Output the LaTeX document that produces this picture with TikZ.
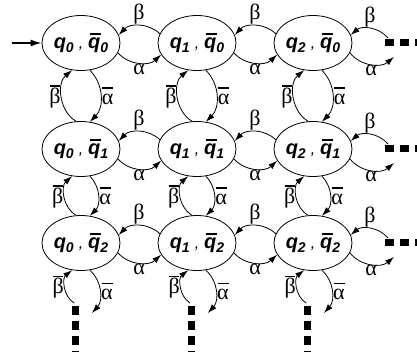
\documentclass[tikz,border=0pt]{standalone}
\usepackage{fontspec}
\setmainfont{Liberation Sans}
\newfontfamily\greek{Liberation Serif}
\usetikzlibrary{shapes.geometric,arrows.meta}
% state labels: q_i , qbar_j
\newcommand{\sub}[1]{\raisebox{-4pt}{\fontsize{14}{14}\selectfont #1}}
\newcommand{\qbar}{\makebox[0pt][l]{\hspace{1.5pt}\rule[13.5pt]{11pt}{2.2pt}}q}
\newcommand{\st}[2]{q\sub{#1}\hspace{5pt}{\fontsize{16}{16}\selectfont\mdseries ,}\hspace{5pt}\qbar\sub{#2}}
% negated letters
\newcommand{\nbeta}{\makebox[0pt][l]{\hspace{0.5pt}\rule[17pt]{10pt}{1.3pt}}β}
\newcommand{\nalpha}{\makebox[0pt][l]{\hspace{0.5pt}\rule[15.5pt]{11pt}{1.3pt}}α}

\begin{document}
\begin{tikzpicture}[x=1pt,y=-1pt,>={Latex[length=9pt,width=6pt]},
  state/.style={ellipse,draw,line width=0.8pt,minimum width=78pt,minimum height=55pt,inner sep=0pt,
    font=\fontsize{20}{24}\selectfont\bfseries\itshape},
  tr/.style={->,line width=0.8pt},
  lbl/.style={font=\greek\fontsize{22}{24}\selectfont,inner sep=1pt},
  dots/.style={line width=7pt,dash pattern=on 9pt off 6pt}]
\clip (0,0) rectangle (417,351);

\node[state](q00) at (81,43) {\st{0}{0}};
\node[state](q10) at (197,43) {\st{1}{0}};
\node[state](q20) at (313,43) {\st{2}{0}};
\node[state](q01) at (81,149) {\st{0}{1}};
\node[state](q11) at (197,149) {\st{1}{1}};
\node[state](q21) at (313,149) {\st{2}{1}};
\node[state](q02) at (81,243) {\st{0}{2}};
\node[state](q12) at (197,243) {\st{1}{2}};
\node[state](q22) at (313,243) {\st{2}{2}};

% initial state
\coordinate (init) at (12,43);
\draw[line width=1.5pt,-{Latex[length=11pt,width=7pt]}] (init) -- (q00);

% alpha / beta between columns
\draw[tr] (q10.166) to[bend right=45] node[lbl,above]{β} (q00.12);
\draw[tr] (q00.-15) to[bend right=45] node[lbl,below]{α} (q10.198);
\draw[tr] (q20.166) to[bend right=45] node[lbl,above]{β} (q10.12);
\draw[tr] (q10.-15) to[bend right=45] node[lbl,below]{α} (q20.198);
\draw[tr] (q11.166) to[bend right=45] node[lbl,above]{β} (q01.12);
\draw[tr] (q01.-15) to[bend right=45] node[lbl,below]{α} (q11.198);
\draw[tr] (q21.166) to[bend right=45] node[lbl,above]{β} (q11.12);
\draw[tr] (q11.-15) to[bend right=45] node[lbl,below]{α} (q21.198);
\draw[tr] (q12.166) to[bend right=45] node[lbl,above]{β} (q02.12);
\draw[tr] (q02.-15) to[bend right=45] node[lbl,below]{α} (q12.198);
\draw[tr] (q22.166) to[bend right=45] node[lbl,above]{β} (q12.12);
\draw[tr] (q12.-15) to[bend right=45] node[lbl,below]{α} (q22.198);

% negated letters between rows
\draw[tr] (q01.100) to[bend left=55] node[lbl,left]{\nbeta} (q00.252);
\draw[tr] (q00.288) to[bend left=45] node[lbl,right]{\nalpha} (q01.72);
\draw[tr] (q11.100) to[bend left=55] node[lbl,left]{\nbeta} (q10.252);
\draw[tr] (q10.288) to[bend left=45] node[lbl,right]{\nalpha} (q11.72);
\draw[tr] (q21.100) to[bend left=55] node[lbl,left]{\nbeta} (q20.252);
\draw[tr] (q20.288) to[bend left=45] node[lbl,right]{\nalpha} (q21.72);
\draw[tr] (q02.100) to[bend left=55] node[lbl,left]{\nbeta} (q01.252);
\draw[tr] (q01.288) to[bend left=45] node[lbl,right]{\nalpha} (q02.72);
\draw[tr] (q12.100) to[bend left=55] node[lbl,left]{\nbeta} (q11.252);
\draw[tr] (q11.288) to[bend left=45] node[lbl,right]{\nalpha} (q12.72);
\draw[tr] (q22.100) to[bend left=55] node[lbl,left]{\nbeta} (q21.252);
\draw[tr] (q21.288) to[bend left=45] node[lbl,right]{\nalpha} (q22.72);

% continuation to the right
\coordinate (d0) at (385,42); \coordinate (r0) at (388,38); \coordinate (s0) at (394,57);
\coordinate (d1) at (385,148); \coordinate (r1) at (388,144); \coordinate (s1) at (394,163);
\coordinate (d2) at (385,242); \coordinate (r2) at (388,238); \coordinate (s2) at (394,257);
\draw[dots] (d0) -- ++(45,0);
\draw[dots] (d1) -- ++(45,0);
\draw[dots] (d2) -- ++(45,0);
\draw[tr] (r0) to[bend right=45] node[lbl,above]{β} (q20.12);
\draw[tr] (q20.-15) to[bend right=45] node[lbl,below]{α} (s0);
\draw[tr] (r1) to[bend right=45] node[lbl,above]{β} (q21.12);
\draw[tr] (q21.-15) to[bend right=45] node[lbl,below]{α} (s1);
\draw[tr] (r2) to[bend right=45] node[lbl,above]{β} (q22.12);
\draw[tr] (q22.-15) to[bend right=45] node[lbl,below]{α} (s2);

% continuation downwards
\coordinate (e0) at (75,306); \coordinate (u0) at (74,303); \coordinate (v0) at (92,313);
\coordinate (e1) at (191,306); \coordinate (u1) at (190,303); \coordinate (v1) at (208,313);
\coordinate (e2) at (307,306); \coordinate (u2) at (306,303); \coordinate (v2) at (324,313);
\draw[dots] (e0) -- ++(0,60);
\draw[dots] (e1) -- ++(0,60);
\draw[dots] (e2) -- ++(0,60);
\draw[tr] (u0) to[bend left=55] node[lbl,left]{\nbeta} (q02.252);
\draw[tr] (q02.288) to[bend left=45] node[lbl,right]{\nalpha} (v0);
\draw[tr] (u1) to[bend left=55] node[lbl,left]{\nbeta} (q12.252);
\draw[tr] (q12.288) to[bend left=45] node[lbl,right]{\nalpha} (v1);
\draw[tr] (u2) to[bend left=55] node[lbl,left]{\nbeta} (q22.252);
\draw[tr] (q22.288) to[bend left=45] node[lbl,right]{\nalpha} (v2);
\end{tikzpicture}
\end{document}
